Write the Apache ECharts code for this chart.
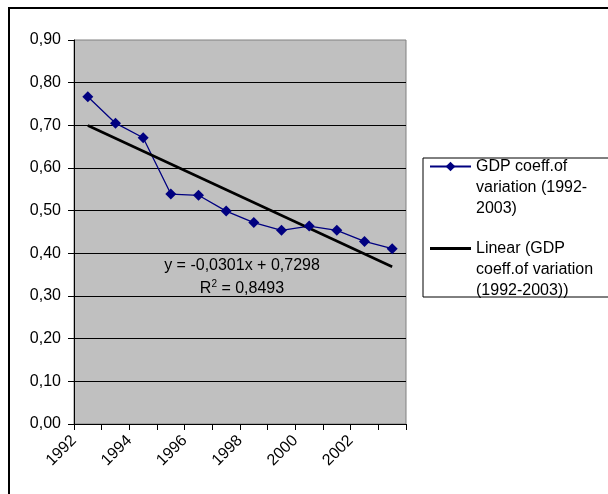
<!DOCTYPE html>
<html>
<head>
<meta charset="utf-8">
<script src="https://cdn.jsdelivr.net/npm/echarts@6/dist/echarts.min.js"></script>
<style>
  html, body { margin: 0; padding: 0; background: #ffffff; }
  #chart { width: 608px; height: 494px; }
</style>
</head>
<body>
<div id="chart"></div>
<script>
// Years covered by the series
const years = ['1992', '1993', '1994', '1995', '1996', '1997', '1998', '1999', '2000', '2001', '2002', '2003'];
// GDP coefficient of variation per year
const gdpCv = [0.767, 0.705, 0.671, 0.539, 0.536, 0.499, 0.472, 0.454, 0.464, 0.454, 0.428, 0.411];
// Linear trend fitted on the year index (1..12)
const trendSlope = -0.0301;
const trendIntercept = 0.7298;
const trendR2 = 0.8493;
// Value axis range and step
const yMin = 0, yMax = 0.9, yStep = 0.1;
// Year axis range (boundaries) and labelled years
const xMin = 1992, xMax = 2004;
const xLabelYears = [1992, 1994, 1996, 1998, 2000, 2002];

const seriesName = 'GDP coeff.of variation (1992-2003)';
const trendName = 'Linear (GDP coeff.of variation (1992-2003))';
// Legend entries wrap over three lines; two leading blank lines keep the
// first line level with the legend marker.
const legendText = {};
legendText[seriesName] = '\n\nGDP coeff.of\nvariation (1992-\n2003)';
legendText[trendName] = '\n\nLinear (GDP\ncoeff.of variation\n(1992-2003))';

const FONT = 'Liberation Sans, Arial, sans-serif';
const comma = (v, d) => v.toFixed(d).replace('.', ',');

// Trend line end points come from the fitted equation
const trendAt = i => trendSlope * i + trendIntercept;
const trendData = [[years[0], trendAt(1)], [years[years.length - 1], trendAt(years.length)]];

const eqText = 'y = ' + comma(trendSlope, 4) + 'x + ' + comma(trendIntercept, 4) +
  '\nR{sup|2} = ' + comma(trendR2, 4);

const chart = echarts.init(document.getElementById('chart'), null, { renderer: 'canvas' });
chart.setOption({
  animation: false,
  backgroundColor: '#ffffff',
  textStyle: { fontFamily: FONT },
  grid: {
    left: 74, top: 40, right: 202, bottom: 70,
    show: true, backgroundColor: '#c0c0c0', borderColor: '#808080', borderWidth: 1
  },
  xAxis: [
    {
      type: 'category', data: years, boundaryGap: true, show: false, gridIndex: 0
    },
    {
      type: 'value', min: xMin, max: xMax, interval: 1, position: 'bottom', gridIndex: 0,
      axisLine: { show: true, lineStyle: { color: '#000', width: 1 } },
      axisTick: { show: true, inside: false, length: 6, lineStyle: { color: '#000' } },
      splitLine: { show: false },
      axisLabel: {
        rotate: 45, margin: 14, fontSize: 16, color: '#000', fontFamily: FONT,
        padding: [14, 0, 0, 0],
        showMinLabel: true, showMaxLabel: true,
        formatter: v => (xLabelYears.indexOf(v) >= 0 ? String(v) : '')
      }
    }
  ],
  yAxis: {
    type: 'value', min: yMin, max: yMax, interval: yStep,
    axisLine: { show: true, lineStyle: { color: '#000', width: 1 } },
    axisTick: { show: true, inside: false, length: 6, lineStyle: { color: '#000' } },
    splitLine: { show: true, showMaxLine: false, lineStyle: { color: '#000', width: 1 } },
    axisLabel: {
      margin: 13, fontSize: 16, color: '#000', fontFamily: FONT,
      formatter: v => comma(v, 2)
    }
  },
  legend: {
    orient: 'vertical', left: 429, top: 114, padding: 0, itemGap: -23,
    itemWidth: 41, itemHeight: 12,
    data: [
      seriesName,
      // plain thick bar for the trend line entry
      { name: trendName, icon: 'path://M0,0 L41,0 L41,3 L0,3 Z' }
    ],
    formatter: name => legendText[name],
    textStyle: { fontSize: 16, color: '#000', fontFamily: FONT, lineHeight: 21 }
  },
  series: [
    {
      name: seriesName, type: 'line', xAxisIndex: 0, data: gdpCv,
      symbol: 'diamond', symbolSize: 11,
      itemStyle: { color: '#000080' },
      lineStyle: { color: '#000080', width: 1.3 }
    },
    {
      name: trendName, type: 'line', xAxisIndex: 0, data: trendData,
      symbol: 'none',
      itemStyle: { color: '#000' },
      lineStyle: { color: '#000', width: 2.6 }
    }
  ],
  graphic: [
    {
      type: 'rect', silent: true, z: 100,
      shape: { x: 9, y: 8, width: 800, height: 700 },
      style: { fill: 'none', stroke: '#000', lineWidth: 2 }
    },
    {
      type: 'rect', silent: true, z: 100,
      shape: { x: 423, y: 158, width: 400, height: 139 },
      style: { fill: 'none', stroke: '#000', lineWidth: 1 }
    },
    {
      type: 'text', silent: true, z: 100, x: 242, y: 277,
      style: {
        text: eqText, align: 'center', verticalAlign: 'middle',
        fontSize: 16, fontFamily: FONT, fill: '#000', lineHeight: 23,
        rich: { sup: { fontSize: 10, fontFamily: FONT, fill: '#000', padding: [0, 0, 9, 0] } }
      }
    }
  ]
});
</script>
</body>
</html>
